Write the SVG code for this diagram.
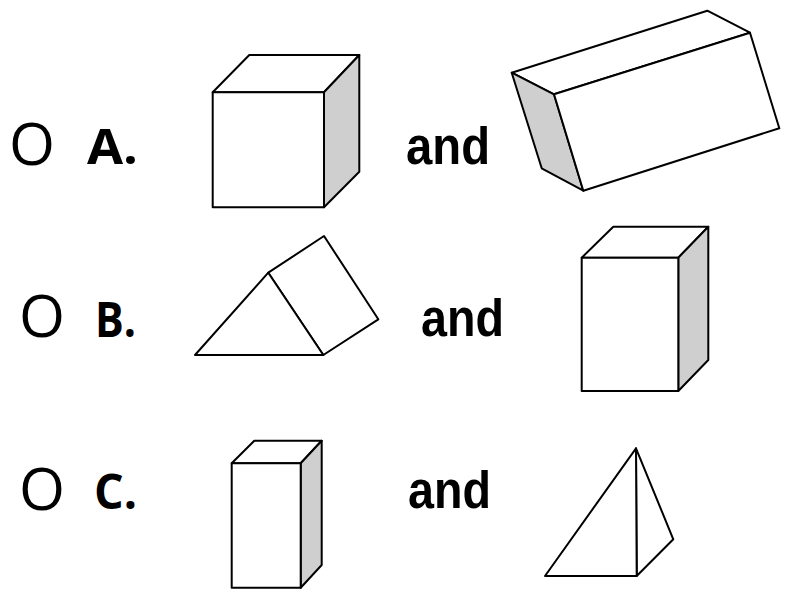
<svg xmlns="http://www.w3.org/2000/svg" width="785" height="591" viewBox="0 0 785 591">
<style>
.s{fill:#fff;stroke:#000;stroke-width:2;stroke-linejoin:round}
.g{fill:#cfcfcf;stroke:#000;stroke-width:2;stroke-linejoin:round}
.o{font-family:"Open Sans","Liberation Sans",sans-serif;font-size:58px;fill:#000}
.l{font-family:"Open Sans","Liberation Sans",sans-serif;font-size:48px;font-weight:bold;fill:#000}
.a{font-family:"Liberation Sans",Arial,sans-serif;font-size:51px;font-weight:bold;fill:#000}
</style>
<rect width="785" height="591" fill="#fff"/>
<g id="labelA">
<text class="o" x="9" y="165" textLength="46" lengthAdjust="spacingAndGlyphs">O</text>
<text class="l" x="87" y="164" textLength="51" lengthAdjust="spacingAndGlyphs">A.</text>
<text class="a" x="406" y="164" textLength="84" lengthAdjust="spacingAndGlyphs">and</text>
</g>
<g id="labelB">
<text class="o" x="19" y="337" textLength="46" lengthAdjust="spacingAndGlyphs">O</text>
<text class="l" x="95" y="337" textLength="41" lengthAdjust="spacingAndGlyphs">B.</text>
<text class="a" x="421" y="336" textLength="83" lengthAdjust="spacingAndGlyphs">and</text>
</g>
<g id="labelC">
<text class="o" x="19" y="510" textLength="46" lengthAdjust="spacingAndGlyphs">O</text>
<text class="l" x="94" y="509" textLength="43" lengthAdjust="spacingAndGlyphs">C.</text>
<text class="a" x="408" y="508" textLength="83" lengthAdjust="spacingAndGlyphs">and</text>
</g>
<g id="cubeA">
<polygon class="s" points="212.7,92.3 249.3,55 359.3,55 324,92.3"/>
<polygon class="g" points="324,92.3 359.3,55 359.3,171.7 324,207.3"/>
<rect class="s" x="212.7" y="92.3" width="111.3" height="115"/>
</g>
<g id="prismA">
<polygon class="s" points="511.7,72.7 707.3,10.7 750,32.7 554,94.3"/>
<polygon class="g" points="511.7,72.7 554,94.3 583.3,190.7 541.7,168.3"/>
<polygon class="s" points="554,94.3 750,32.7 779.3,128.3 583.3,190.7"/>
</g>
<g id="triPrismB">
<polygon class="s" points="268.3,272.7 324,236 378.3,319.3 323.3,355"/>
<polygon class="s" points="195,355 268.3,272.7 323.3,355"/>
</g>
<g id="boxB">
<polygon class="s" points="581.7,257.7 613.3,226.7 708.3,226.7 678.3,257.7"/>
<polygon class="g" points="678.3,257.7 708.3,226.7 708.3,360 678.3,391"/>
<rect class="s" x="581.7" y="257.7" width="96.6" height="133.3"/>
</g>
<g id="boxC">
<polygon class="s" points="231.7,463.3 254.3,440.7 321.7,440.7 300.7,463.3"/>
<polygon class="g" points="300.7,463.3 321.7,440.7 321.7,565 300.7,587.7"/>
<rect class="s" x="231.7" y="463.3" width="69" height="124.4"/>
</g>
<g id="pyramidC">
<polygon class="s" points="636,448.3 673.3,539.3 636.7,576"/>
<polygon class="s" points="545,576 636,448.3 636.7,576"/>
</g>
<g id="connectors"></g>
</svg>
